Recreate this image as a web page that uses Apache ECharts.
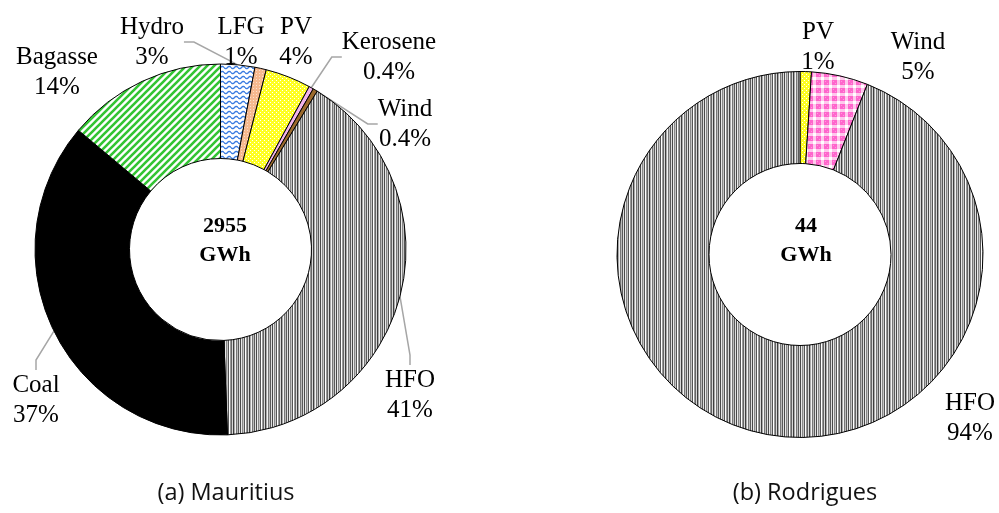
<!DOCTYPE html>
<html><head><meta charset="utf-8">
<script src="https://cdn.jsdelivr.net/npm/echarts@6/dist/echarts.min.js"></script>
<style>html,body{margin:0;padding:0;background:#fff}#c{width:999px;height:513px}</style>
</head><body><div id="c"></div>
<script>
// ---- data ----
const mauritiusCategories = ['Hydro', 'LFG', 'PV', 'Kerosene', 'Wind', 'HFO', 'Coal', 'Bagasse'];
const mauritiusValues = [3, 1, 4, 0.4, 0.4, 41, 37, 14];
const mauritiusLabels = ['3%', '1%', '4%', '0.4%', '0.4%', '41%', '37%', '14%'];
const rodriguesCategories = ['PV', 'Wind', 'HFO'];
const rodriguesValues = [1, 5, 94];
const rodriguesLabels = ['1%', '5%', '94%'];
const totals = ['2955', '44'];
const totalUnit = 'GWh';
const subtitles = ['(a) Mauritius', '(b) Rodrigues'];

// ---- patterns ----
function pat(w, h, draw) {
  const c = document.createElement('canvas'); c.width = w; c.height = h;
  const g = c.getContext('2d'); draw(g, w, h);
  return { image: c, repeat: 'repeat' };
}
const hydroPat = pat(7, 5, (g, w, h) => {
  g.fillStyle = '#fff'; g.fillRect(0, 0, w, h);
  g.strokeStyle = '#3a7be0'; g.lineWidth = 1.4; g.beginPath();
  for (let x = 0; x <= w; x += 0.5) { const y = 2.5 + 1.2 * Math.sin(x / w * Math.PI * 2); if (x === 0) g.moveTo(x, y); else g.lineTo(x, y); }
  g.stroke();
});
const bagassePat = pat(7, 7, (g, w, h) => {
  g.fillStyle = '#fff'; g.fillRect(0, 0, w, h);
  g.strokeStyle = '#33c433'; g.lineWidth = 2.6; g.beginPath();
  g.moveTo(-1, h + 1); g.lineTo(w + 1, -1);
  g.moveTo(-1, 1); g.lineTo(1, -1);
  g.moveTo(w - 1, h + 1); g.lineTo(w + 1, h - 1);
  g.stroke();
});
const pvPat = pat(4, 4, (g, w, h) => {
  g.fillStyle = '#ffff22'; g.fillRect(0, 0, w, h);
  g.fillStyle = '#fff'; g.fillRect(0, 0, 1, 1); g.fillRect(2, 2, 1, 1);
});
const lfgPat = pat(3, 3, (g, w, h) => {
  g.fillStyle = '#f6b98f'; g.fillRect(0, 0, w, h);
  g.fillStyle = '#fbe0cc'; g.fillRect(1, 1, 1, 1);
});
const hfoPat = pat(16, 4, (g, w, h) => {
  const cols = ['#4a4a4a', '#e8e8e8', '#888', '#c4c4c4', '#555', '#fff', '#999', '#666', '#d8d8d8', '#3e3e3e', '#aaa', '#f2f2f2', '#777', '#bbb', '#5a5a5a', '#ddd'];
  cols.forEach((c, i) => { g.fillStyle = c; g.fillRect(i, 0, 1, h); });
});
const windRodPat = pat(8, 8, (g, w, h) => {
  g.fillStyle = '#ff66cc'; g.fillRect(0, 0, w, h);
  g.fillStyle = '#ffc8ec'; g.fillRect(5, 0, 3, h); g.fillRect(0, 5, w, 3);
  g.fillStyle = '#fff'; g.fillRect(5, 5, 3, 3);
  g.fillStyle = '#ff99dd'; g.fillRect(1, 1, 1, 1); g.fillRect(3, 3, 1, 1);
});
const mauritiusColors = [hydroPat, lfgPat, pvPat, '#f2b4ec', '#9c6a2c', hfoPat, '#000000', bagassePat];
const rodriguesColors = [pvPat, windRodPat, hfoPat];

// label positions (block centres)
const mauritiusLabelPos = [[152, 42], [241, 42], [296, 42], [389, 57], [405, 124], [410, 395], [36, 400], [57, 72]];
const mauritiusLeader = [true, false, false, true, true, true, true, false];
const rodriguesLabelPos = [[818, 47], [918, 57], [970, 418]];
const rodriguesLeader = [false, false, false];

const serif = '"Liberation Serif", "Times New Roman", serif';

function makeData(cats, vals, labs, colors, leader) {
  return cats.map((c, i) => ({
    name: c, value: vals[i], pct: labs[i],
    itemStyle: { color: colors[i] },
    labelLine: { show: leader[i] }
  }));
}

function makeSeries(cats, vals, labs, colors, leader, pos, center, radius) {
  return {
    type: 'pie', center: center, radius: radius, startAngle: 90, clockwise: true,
    avoidLabelOverlap: false, silent: true, animation: false,
    itemStyle: { borderColor: '#000', borderWidth: 1 },
    data: makeData(cats, vals, labs, colors, leader),
    label: {
      show: true, position: 'outside', color: '#000', fontFamily: serif, fontSize: 25, lineHeight: 30,
      align: 'center',
      formatter: p => p.name + '\n' + p.data.pct
    },
    labelLine: { show: true, length: 10, length2: 10, lineStyle: { color: '#a6a6a6', width: 1.5 } },
    labelLayout: p => ({ x: pos[p.dataIndex][0], y: pos[p.dataIndex][1], align: 'center', verticalAlign: 'middle' })
  };
}

const chart = echarts.init(document.getElementById('c'), null, { renderer: 'canvas' });
chart.setOption({
  backgroundColor: '#fff',
  animation: false,
  title: [
    { text: totals[0] + '\n' + totalUnit, left: 220, top: 207, textAlign: 'center',
      textStyle: { fontFamily: serif, fontWeight: 'bold', fontSize: 22, lineHeight: 29, color: '#000' } },
    { text: totals[1] + '\n' + totalUnit, left: 801, top: 207, textAlign: 'center',
      textStyle: { fontFamily: serif, fontWeight: 'bold', fontSize: 22, lineHeight: 29, color: '#000' } },
    { text: subtitles[0], left: 221, top: 476, textAlign: 'center',
      textStyle: { fontFamily: '"Open Sans", sans-serif', fontWeight: 'normal', fontSize: 23.5, color: '#111' } },
    { text: subtitles[1], left: 800, top: 476, textAlign: 'center',
      textStyle: { fontFamily: '"Open Sans", sans-serif', fontWeight: 'normal', fontSize: 23.5, color: '#111' } }
  ],
  series: [
    makeSeries(mauritiusCategories, mauritiusValues, mauritiusLabels, mauritiusColors, mauritiusLeader, mauritiusLabelPos, [220.5, 249.5], [91, 185.5]),
    makeSeries(rodriguesCategories, rodriguesValues, rodriguesLabels, rodriguesColors, rodriguesLeader, rodriguesLabelPos, [800, 254.5], [91, 183])
  ]
});
</script>
</body></html>
